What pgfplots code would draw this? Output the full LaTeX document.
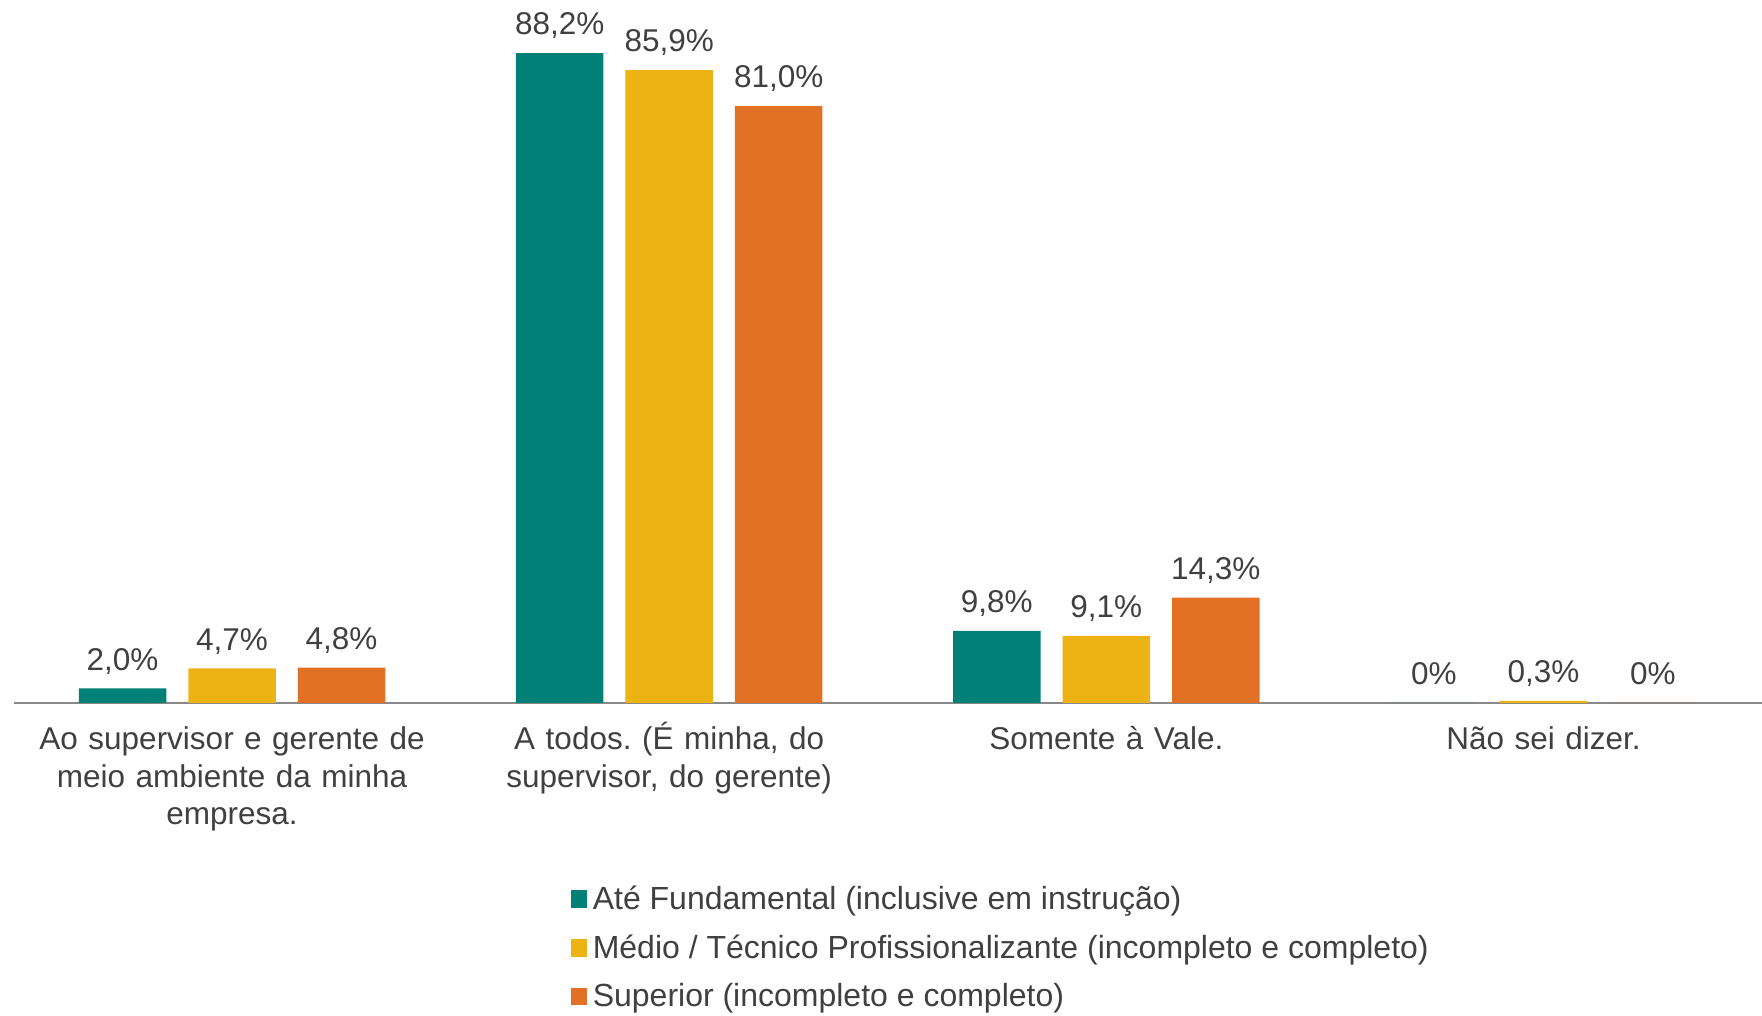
\documentclass[border=0pt]{standalone}
\usepackage{fontspec}
\setmainfont{Liberation Sans}
\usepackage{pgfplots}
\pgfplotsset{compat=1.18}
\definecolor{cTeal}{RGB}{0,128,119}
\definecolor{cYellow}{RGB}{237,178,20}
\definecolor{cOrange}{RGB}{227,113,37}
\definecolor{txt}{RGB}{64,64,64}
\definecolor{axgray}{RGB}{137,137,137}
\frenchspacing

\begin{document}
\begin{tikzpicture}
\useasboundingbox (0,0) rectangle (704.8pt,406.4pt);
\begin{axis}[
  at={(5.4pt,125.2pt)}, anchor=south west,
  scale only axis, width=699.4pt, height=281.2pt,
  xmin=-0.5, xmax=3.5, ymin=0, ymax=95.4,
  axis y line=none, axis x line=bottom,
  x axis line style={-, draw=axgray, line width=0.8pt},
  xtick={0,1,2,3}, major tick length=0pt,
  xticklabels={
    {Ao supervisor e gerente de\\meio ambiente da minha\\empresa.},
    {A todos. (É minha, do\\supervisor, do gerente)},
    {Somente à Vale.},
    {Não sei dizer.}},
  xticklabel style={anchor=base, inner sep=0pt, text width=200pt, align=center,
    yshift=-18.8pt, font=\fontsize{12.6}{15}\selectfont, text=txt},
  ybar=8.8pt, bar width=35pt,
  point meta=explicit symbolic,
  nodes near coords,
  every node near coord/.append style={anchor=base, inner sep=0pt, yshift=7.3pt,
    font=\fontsize{12.6}{14}\selectfont, text=txt},
  legend image code/.code={\fill[#1] (0pt,-2.7pt) rectangle (6.4pt,4.3pt);},
  legend style={at={(0.3183,-0.259)}, anchor=north west, draw=none, fill=none,
    inner sep=0pt, row sep=7.1pt, column sep=2.5pt,
    font=\fontsize{12.8}{14}\selectfont, text=txt,
    nodes={inner sep=0pt, text height=9.5pt, text depth=2.9pt}},
  legend cell align=left,
  clip=false,
]
\addplot[fill=cTeal, draw=none] coordinates {
  (0,2.0) [2,0\%] (1,88.2) [88,2\%] (2,9.8) [9,8\%] (3,0) [0\%]};
\addplot[fill=cYellow, draw=none] coordinates {
  (0,4.7) [4,7\%] (1,85.9) [85,9\%] (2,9.1) [9,1\%] (3,0.3) [0,3\%]};
\addplot[fill=cOrange, draw=none] coordinates {
  (0,4.8) [4,8\%] (1,81.0) [81,0\%] (2,14.3) [14,3\%] (3,0) [0\%]};
\legend{Até Fundamental (inclusive em instrução),
  Médio / Técnico Profissionalizante (incompleto e completo),
  Superior (incompleto e completo)}
\end{axis}
\end{tikzpicture}
\end{document}
